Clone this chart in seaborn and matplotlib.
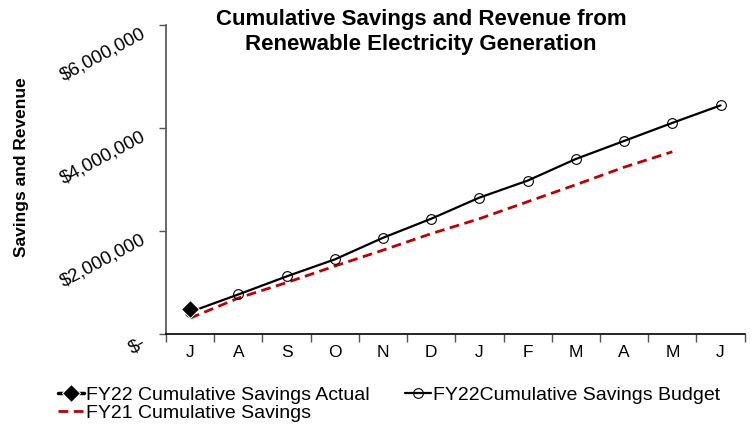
import matplotlib
matplotlib.use("Agg")
import matplotlib.pyplot as plt
import seaborn as sns

# Data
months = ["J", "A", "S", "O", "N", "D", "J", "F", "M", "A", "M", "J"]
budget = [430000, 770000, 1120000, 1450000, 1870000, 2240000, 2650000,
          2980000, 3400000, 3750000, 4100000, 4440000]
actual = [480000]
fy21 = [310000, 700000, 1000000, 1320000, 1630000, 1950000, 2240000,
        2570000, 2900000, 3240000, 3540000]

sns.set_theme(style="white", rc={"text.color": "black", "axes.labelcolor": "black",
                                 "xtick.color": "black", "ytick.color": "black"})
plt.rcParams['font.family'] = ['Liberation Sans', 'DejaVu Sans']

fig = plt.figure(figsize=(7.56, 4.24), dpi=100)
ax = fig.add_axes([0.2196, 0.212, 0.7654, 0.729])

x = list(range(len(months)))

sns.lineplot(x=x[:len(fy21)], y=fy21, ax=ax, color="#C00000", lw=2,
             label="FY21 Cumulative Savings")
ax.lines[-1].set_linestyle((0, (3.5, 2)))
sns.lineplot(x=x, y=budget, ax=ax, color="black", lw=1.6, marker="o",
             markersize=7, markerfacecolor="none", markeredgecolor="black",
             markeredgewidth=0.8, label="FY22Cumulative Savings Budget")
sns.lineplot(x=x[:len(actual)], y=actual, ax=ax, color="black", lw=2.5,
             marker="D", markersize=9, label="FY22 Cumulative Savings Actual")

ax.set_xlim(-0.5, 11.5)
ax.set_ylim(0, 6000000)

# category boundaries as tick marks, labels at the centers
ax.set_xticks([i - 0.5 for i in range(13)])
ax.set_xticklabels([])
ax.set_xticks(x, minor=True)
ax.set_xticklabels(months, minor=True, fontsize=12.5)
ax.tick_params(axis="x", which="major", direction="out", length=6, width=1,
               color="#555555", bottom=True)
ax.tick_params(axis="x", which="minor", length=0, pad=8)

yticks = [0, 2000000, 4000000, 6000000]
ylabels = ["$-", "$2,000,000", "$4,000,000", "$6,000,000"]
ax.set_yticks(yticks)
ax.set_yticklabels(ylabels, fontsize=13.5, rotation=28, ha="right",
                   va="top", rotation_mode="anchor")
ax.tick_params(axis="y", direction="out", length=5, width=1,
               color="#555555", left=True, pad=13)

for s in ["top", "right"]:
    ax.spines[s].set_visible(False)
ax.spines["left"].set_color("#555555")
ax.spines["bottom"].set_color("black")
ax.spines["bottom"].set_linewidth(1.2)

ax.set_ylabel("Savings and Revenue", fontsize=12.5, fontweight="bold")
ax.yaxis.set_label_coords(-0.236, 0.54)

fig.text(0.557, 0.978, "Cumulative Savings and Revenue from\nRenewable Electricity Generation",
         ha="center", va="top", fontsize=16, fontweight="bold", linespacing=1.2)

h, l = ax.get_legend_handles_labels()
order = [2, 0, 1]
ax.legend([h[i] for i in order], [l[i] for i in order], ncol=2,
          loc="lower left", bbox_to_anchor=(-0.2, -0.308), frameon=False,
          fontsize=14, handlelength=1.35, handletextpad=0.1,
          columnspacing=1.8, labelspacing=0.0, borderaxespad=0)

fig.savefig("out.png", dpi=100)
